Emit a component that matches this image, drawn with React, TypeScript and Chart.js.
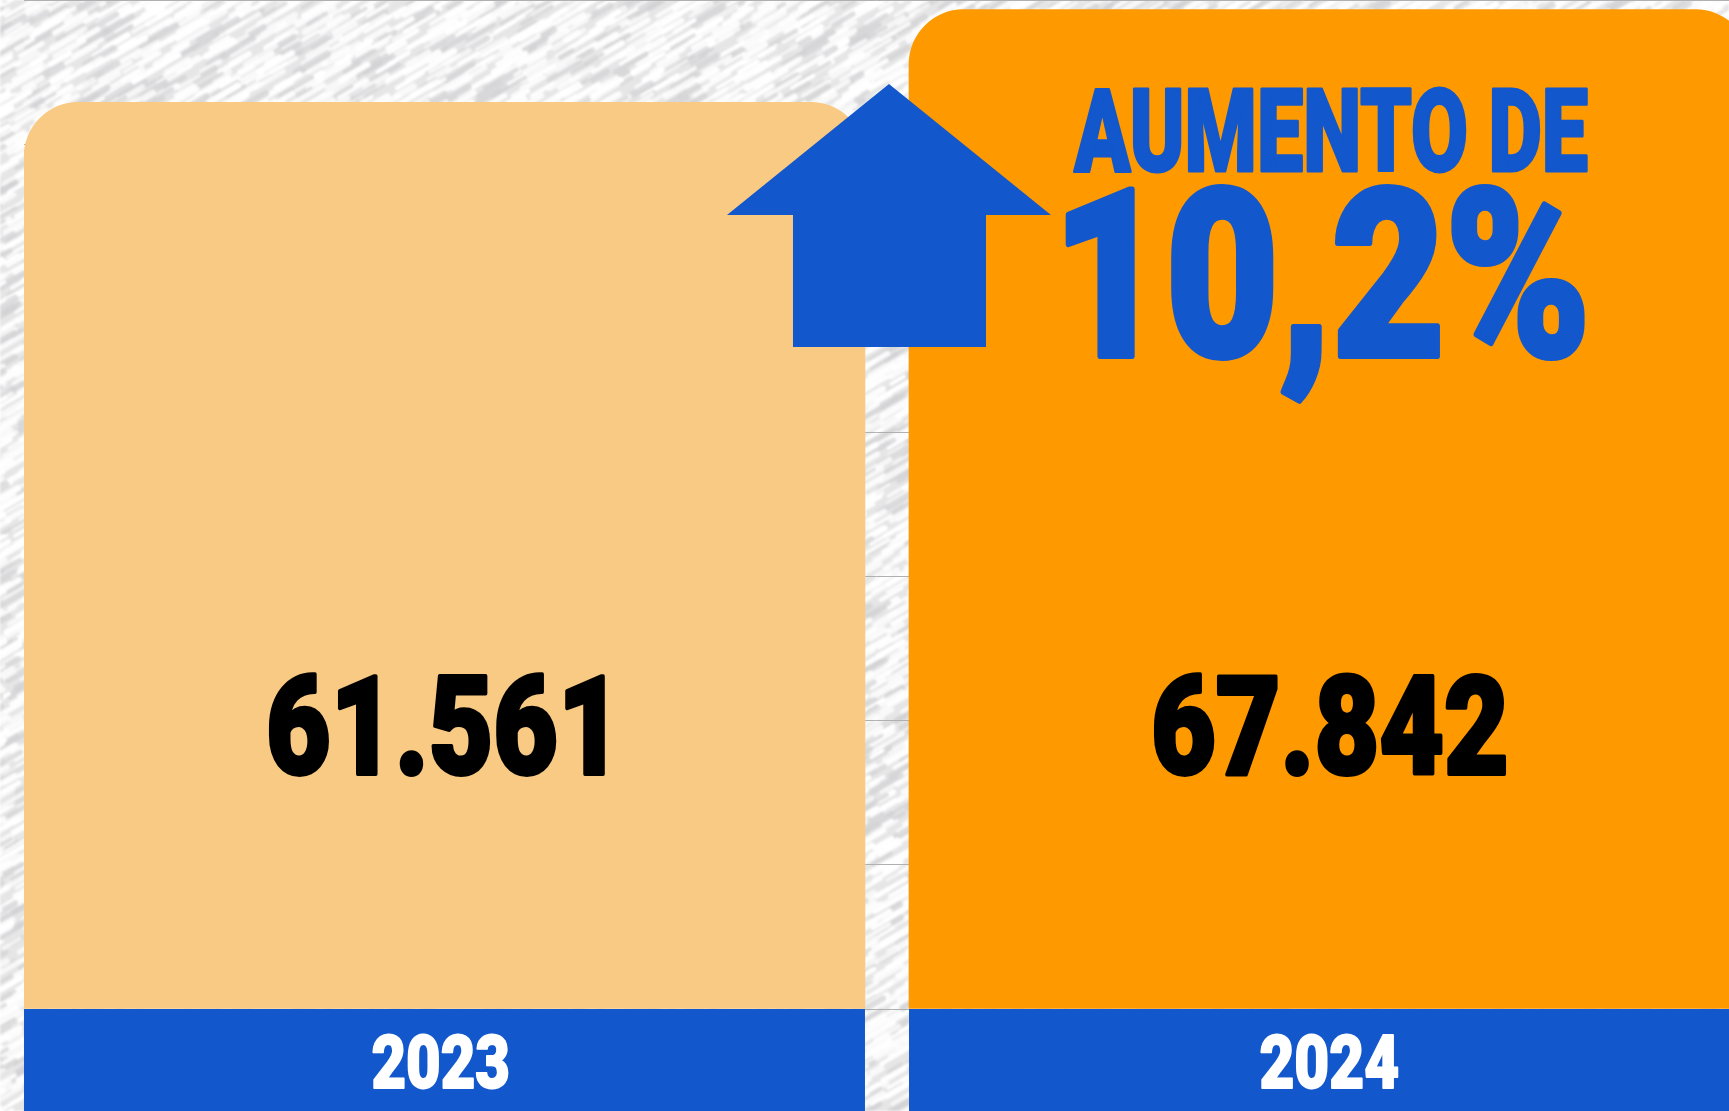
import React, { useEffect, useRef } from 'react';
import { Chart, registerables } from 'chart.js';

Chart.register(...registerables);

// ---------- data ----------
const YEARS = ['2023', '2024'];
const VALUES = [61561, 67842];
const BAR_COLORS = ['#F9CA83', '#FF9900'];
const Y_MIN = 0;
const Y_MAX = 68500;
const Y_STEP = 10000;
const TITLE_LINE = 'AUMENTO DE';

// ---------- layout / style ----------
const W = 1729;
const H = 1111;
const BLUE = '#1257CC';
const FONT = 'Roboto, Inter, "Liberation Sans", sans-serif';
const VALUE_WIDTHS = [338, 354];
const YEAR_WIDTHS = [137, 139];
const VALUE_DX = [-7.5, 0.5];
const YEAR_DX = [-4, 0];

function hash(i: number) {
  const s = Math.sin(i * 12.9898 + 78.233) * 43758.5453;
  return s - Math.floor(s);
}

function makeTexture(w: number, h: number) {
  const raw = document.createElement('canvas');
  raw.width = w;
  raw.height = h;
  const g = raw.getContext('2d')!;
  g.fillStyle = '#e6e6e6';
  g.fillRect(0, 0, w, h);
  g.lineCap = 'round';
  let k = 0;
  for (let y = -40; y < h + 40; y += 8) {
    for (let x = -40; x < w + 40; x += 18) {
      const r1 = hash(k++);
      const r2 = hash(k++);
      const r3 = hash(k++);
      const len = 14 + r1 * 26;
      const xx = x + r2 * 14 + ((y / 8) % 2 === 0 ? 9 : 0);
      const dark = r3 < 0.22;
      g.strokeStyle = dark ? 'rgba(210,210,212,0.7)' : `rgba(255,255,255,${0.55 + r3 * 0.45})`;
      g.lineWidth = 3 + r2 * 4;
      g.beginPath();
      g.moveTo(xx, y);
      g.lineTo(xx + len * 0.86, y - len * 0.5);
      g.stroke();
    }
  }
  const c = document.createElement('canvas');
  c.width = w;
  c.height = h;
  const g2 = c.getContext('2d')!;
  g2.filter = 'blur(0.8px)';
  g2.drawImage(raw, 0, 0);
  return c;
}

function fmt(v: number) {
  return String(v).replace(/\B(?=(\d{3})+(?!\d))/g, '.');
}

function drawFit(
  ctx: CanvasRenderingContext2D,
  text: string,
  x: number,
  baseline: number,
  ascent: number,
  width: number,
  color: string,
  align: 'left' | 'center',
  extra = 0
) {
  ctx.save();
  ctx.textAlign = 'left';
  ctx.textBaseline = 'alphabetic';
  ctx.font = `900 100px ${FONT}`;
  const m0 = ctx.measureText(text);
  const size = (100 * (ascent - extra / 2)) / m0.actualBoundingBoxAscent;
  ctx.font = `900 ${size}px ${FONT}`;
  const m = ctx.measureText(text);
  const ink = m.actualBoundingBoxLeft + m.actualBoundingBoxRight;
  const sx = (width - extra) / ink;
  const left = align === 'center' ? x - width / 2 : x;
  ctx.translate(left + extra / 2, baseline);
  ctx.scale(sx, 1);
  ctx.fillStyle = color;
  ctx.fillText(text, m.actualBoundingBoxLeft, 0);
  if (extra > 0) {
    ctx.strokeStyle = color;
    ctx.lineJoin = 'round';
    ctx.lineWidth = extra;
    ctx.strokeText(text, m.actualBoundingBoxLeft, 0);
  }
  ctx.restore();
}

function decorPlugin(texture: HTMLCanvasElement) {
  return {
    id: 'decor',
    beforeDraw(chart: any) {
      chart.ctx.save();
      chart.ctx.drawImage(texture, 0, 0);
      chart.ctx.restore();
    },
    afterDatasetsDraw(chart: any) {
      const ctx: CanvasRenderingContext2D = chart.ctx;
      const area = chart.chartArea;
      const bars = chart.getDatasetMeta(0).data as any[];
      ctx.save();
      bars.forEach((b, i) => {
        ctx.fillStyle = BLUE;
        ctx.fillRect(b.x - b.width / 2, area.bottom, b.width, chart.height - area.bottom);
        drawFit(ctx, YEARS[i], b.x + YEAR_DX[i], area.bottom + 79, 55, YEAR_WIDTHS[i], '#ffffff', 'center', 2);
        drawFit(ctx, fmt(VALUES[i]), b.x + VALUE_DX[i], area.bottom - 235, 101, VALUE_WIDTHS[i], '#000000', 'center', 4);
      });

      // arrow between the bars
      const b0 = bars[0];
      const b1 = bars[1];
      const cx = (b0.x + b0.width / 2 + b1.x - b1.width / 2) / 2 + 2;
      ctx.fillStyle = BLUE;
      ctx.beginPath();
      ctx.moveTo(cx, 84);
      ctx.lineTo(cx + 162, 215);
      ctx.lineTo(cx + 97, 215);
      ctx.lineTo(cx + 97, 347);
      ctx.lineTo(cx - 96, 347);
      ctx.lineTo(cx - 96, 215);
      ctx.lineTo(cx - 162, 215);
      ctx.closePath();
      ctx.fill();

      // increase text
      const pct = ((VALUES[1] / VALUES[0] - 1) * 100).toFixed(1).replace('.', ',') + '%';
      const tl = b1.x - b1.width / 2;
      drawFit(ctx, TITLE_LINE, tl + 163, 171, 86, 517, BLUE, 'left', 3);
      drawFit(ctx, pct, tl + 156, 356, 172, 520, BLUE, 'left', 6);
      ctx.restore();
    },
  };
}

export default function App() {
  const ref = useRef<HTMLCanvasElement>(null);

  useEffect(() => {
    const canvas = ref.current!;
    const texture = makeTexture(W, H);
    const chart = new Chart(canvas, {
      type: 'bar',
      data: {
        labels: YEARS,
        datasets: [
          {
            data: YEARS.map((y, i) => ({ x: Number(y), y: VALUES[i] })) as any,
            backgroundColor: BAR_COLORS,
            borderRadius: 55,
            borderSkipped: 'start',
            barThickness: 841,
          },
        ],
      },
      options: {
        responsive: false,
        animation: false,
        layout: { padding: { left: 24, right: 0, top: 0, bottom: 102 } },
        plugins: {
          legend: { display: false },
          tooltip: { enabled: false },
          title: { display: false },
        },
        scales: {
          x: {
            type: 'linear',
            display: false,
            min: 2022.5249,
            max: 2024.4514,
            offset: false,
          },
          y: {
            min: Y_MIN,
            max: Y_MAX,
            border: { display: false },
            ticks: { display: false, stepSize: Y_STEP, includeBounds: false },
            grid: { color: '#b0b0b0', lineWidth: 1, drawTicks: false },
          },
        },
      },
      plugins: [decorPlugin(texture)],
    } as any);
    return () => chart.destroy();
  }, []);

  return (
    <div style={{ position: 'fixed', left: 0, top: 0, width: W, height: H, overflow: 'hidden' }}>
      <canvas ref={ref} width={W} height={H} style={{ display: 'block', width: W, height: H }} />
    </div>
  );
}
